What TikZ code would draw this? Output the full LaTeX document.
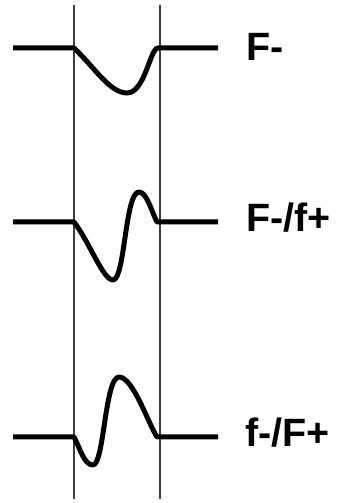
\documentclass[tikz,border=0pt]{standalone}
\usepackage{fontspec}
\setmainfont{Liberation Sans}
\usepackage{tikz}
\usetikzlibrary{calc}
\definecolor{guideGray}{RGB}{60, 60, 60}

\tikzset{
  trace/.style={line width=5pt, black, line join=round},
  guide/.style={line width=1.3pt, guideGray},
  tag/.style={font=\fontsize{39.5}{42}\selectfont\bfseries, anchor=base west, inner sep=0pt}
}

\begin{document}
\begin{tikzpicture}[x=1pt, y=1pt]
  \useasboundingbox (0,0) rectangle (337,503);

  % --- guide lines ---
  \draw[guide] (74,4) -- (74,498);
  \draw[guide] (160,4) -- (160,498);

  % --- F- ---
  \begin{scope}[yshift=455pt]
    \draw[trace] (13,0) -- (74,0)
      .. controls (95,-20) and (110,-45) .. (127,-45)
      .. controls (145,-45) and (150,0) .. (158,0) -- (218,0);
    \node[tag] (fminus) at (246,-13) {F-};
  \end{scope}

  % --- F-/f+ ---
  \begin{scope}[yshift=281pt]
    \draw[trace] (13,0) -- (74,0)
      .. controls (90,-21) and (103,-58) .. (113,-58)
      .. controls (125,-58) and (125,30) .. (139,30)
      .. controls (147,30) and (152,9) .. (157,0) -- (218,0);
    \node[tag] (fminusfplus) at (246,-10) {F-/f+};
  \end{scope}

  % --- f-/F+ ---
  \begin{scope}[yshift=66pt]
    \draw[trace] (13,0) -- (74,0)
      .. controls (80,-11) and (84,-28) .. (93,-28)
      .. controls (104,-28) and (105,60) .. (119,60)
      .. controls (133,60) and (148,14) .. (157,0) -- (218,0);
    \node[tag] (sminusfplus) at (245,-10) {f-/F+};
  \end{scope}
\end{tikzpicture}
\end{document}
